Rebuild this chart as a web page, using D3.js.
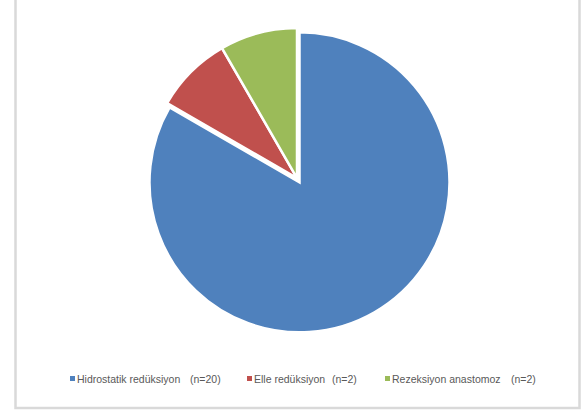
<!DOCTYPE html>
<html>
<head>
<meta charset="utf-8">
<script src="https://cdn.jsdelivr.net/npm/d3@7"></script>
<style>
  body { margin: 0; background: #fff; }
  svg { display: block; }
  text { font-family: "Liberation Sans", "DejaVu Sans", sans-serif; fill: #595959; }
</style>
</head>
<body>
<svg></svg>
<script>
const labels = ["Hidrostatik redüksiyon", "Elle redüksiyon", "Rezeksiyon anastomoz"]
const counts = [20, 2, 2]
const nLabels = ["(n=20)", "(n=2)", "(n=2)"]
const colors = ["#4f81bd", "#c0504d", "#9bbb59"]
const explode = [5, 0, 0]

const svg = d3.select("svg")
  .attr("width", 586)
  .attr("height", 412)

// chart frame
svg.append("rect")
  .attr("x", 15.5)
  .attr("y", -5)
  .attr("width", 564)
  .attr("height", 413)
  .attr("fill", "#fff")
  .attr("stroke", "#d9d9d9")
  .attr("stroke-width", 2.5)

const cx = 297, cy = 178, r = 150

const pie = d3.pie().sort(null).value(d => d)
const arc = d3.arc().innerRadius(0).outerRadius(r)
const arcs = pie(counts)

svg.append("g")
  .attr("transform", `translate(${cx}, ${cy})`)
  .selectAll("path")
  .data(arcs)
  .enter()
  .append("path")
  .attr("d", arc)
  .attr("fill", (d, i) => colors[i])
  .attr("stroke", "#fff")
  .attr("stroke-width", 2.5)
  .attr("transform", (d, i) => {
    const a = (d.startAngle + d.endAngle) / 2
    return `translate(${Math.sin(a) * explode[i]}, ${-Math.cos(a) * explode[i]})`
  })

// legend
const legendX = [70, 247, 385]
const nOffset = [120, 85, 126]
const legend = svg.selectAll("g.legend")
  .data(labels)
  .enter()
  .append("g")
  .attr("class", "legend")
  .attr("transform", (d, i) => `translate(${legendX[i]}, 379)`)

legend.append("rect")
  .attr("x", 0)
  .attr("y", -3)
  .attr("width", 5)
  .attr("height", 5)
  .attr("fill", (d, i) => colors[i])

legend.append("text")
  .attr("x", 7)
  .attr("y", 3.5)
  .attr("font-size", 10.5)
  .text(d => d)

legend.append("text")
  .attr("x", (d, i) => nOffset[i])
  .attr("y", 3.5)
  .attr("font-size", 10.5)
  .text((d, i) => nLabels[i])
</script>
</body>
</html>
